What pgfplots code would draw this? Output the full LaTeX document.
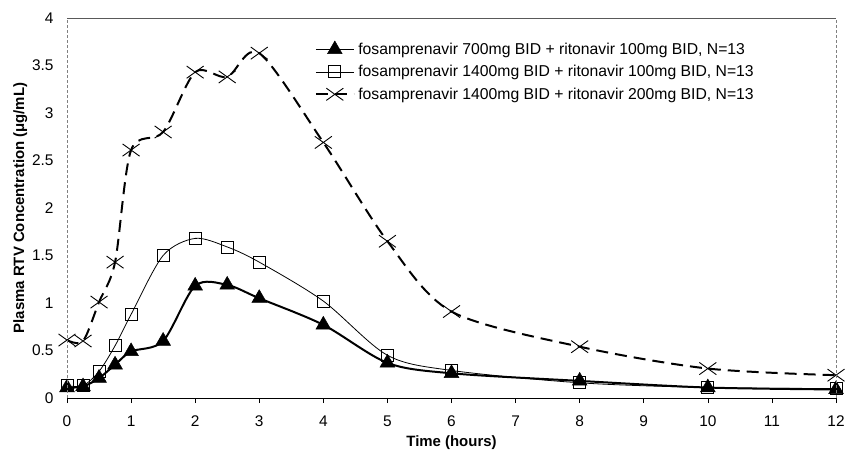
\documentclass[border=0pt]{standalone}
\usepackage{pgfplots}
\pgfplotsset{compat=1.18}
\usepackage{fontspec}
\setmainfont{Liberation Sans}
\begin{document}
\begin{tikzpicture}
\begin{axis}[
  at={(0,0)}, anchor=south west,
  scale only axis, width=769bp, height=380bp,
  xmin=0, xmax=12, ymin=0, ymax=4,
  xtick={0,1,...,12}, ytick={0,0.5,...,4},
  axis line style={draw=none},
  xtick pos=bottom, tick align=outside,
  major tick length=5bp,
  xtick style={black, line width=0.6pt},
  ytick style={draw=none},
  yticklabel style={/pgf/number format/fixed, /pgf/number format/precision=1},
  /pgf/number format/assume math mode=true,
  ticklabel style={font=\fontsize{15.5}{18}\selectfont},
  xticklabel style={yshift=-9bp},
  yticklabel style={xshift=-5bp},
  xlabel={\bfseries Time (hours)},
  ylabel={\bfseries Plasma RTV Concentration (μg/mL)},
  label style={font=\fontsize{15}{18}\selectfont},
  xlabel style={yshift=-2bp},
  ylabel style={yshift=-2bp},
  clip=false,
  legend cell align=left,
  legend style={at={(0.322,0.94)}, anchor=north west, draw=none, fill=none,
    font=\fontsize{15.8}{18}\selectfont, row sep=6.5bp, inner sep=0pt,
    nodes={inner xsep=3.5bp, inner ysep=1.5bp}},
  legend image code/.code={\draw[mark repeat=2,mark phase=2] plot coordinates {(0bp,0bp)(19bp,0bp)(38bp,0bp)};},
  after end axis/.code={
    \draw[gray!70!black, line width=0.8pt] (rel axis cs:0,1) -- (rel axis cs:1,1);
    \draw[gray, line width=0.8pt, dash pattern=on 3bp off 2bp] (rel axis cs:0,0) -- (rel axis cs:0,1);
    \draw[gray, line width=0.8pt, dash pattern=on 3bp off 2bp] (rel axis cs:1,0) -- (rel axis cs:1,1);
    \draw[black, line width=0.8pt] (rel axis cs:0,0) -- (rel axis cs:1,0);
  },
]
\addplot[black, line width=2pt, smooth, tension=0.5, mark=triangle*, mark size=8.5bp, mark options={solid, fill=black, line width=0.5pt}] coordinates {
(0,0.11) (0.25,0.12) (0.5,0.21) (0.75,0.35) (1,0.49) (1.5,0.6) (2,1.18) (2.5,1.19) (3,1.05) (4,0.77) (5,0.37) (6,0.26) (8,0.18) (10,0.11) (12,0.09)};
\addlegendentry{fosamprenavir 700mg BID + ritonavir 100mg BID, N=13}
\addplot[black, line width=0.8pt, smooth, tension=0.5, mark=square, mark size=6bp, mark options={solid, fill=white, line width=0.9pt}] coordinates {
(0,0.13) (0.25,0.13) (0.5,0.28) (0.75,0.55) (1,0.88) (1.5,1.5) (2,1.68) (2.5,1.59) (3,1.43) (4,1.02) (5,0.45) (6,0.29) (8,0.16) (10,0.11) (12,0.1)};
\addlegendentry{fosamprenavir 1400mg BID + ritonavir 100mg BID, N=13}
\addplot[black, line width=2pt, dash pattern=on 12bp off 7bp, smooth, tension=0.5, mark=x, mark size=12bp, mark options={solid, line width=0.9pt, yscale=0.72}] coordinates {
(0,0.61) (0.25,0.6) (0.5,1.01) (0.75,1.43) (1,2.61) (1.5,2.8) (2,3.43) (2.5,3.38) (3,3.63) (4,2.69) (5,1.65) (6,0.91) (8,0.54) (10,0.31) (12,0.24)};
\addlegendentry{fosamprenavir 1400mg BID + ritonavir 200mg BID, N=13}
\end{axis}
\pgfresetboundingbox
\useasboundingbox (-67bp,-55bp) rectangle (779bp,398bp);
\end{tikzpicture}
\end{document}
